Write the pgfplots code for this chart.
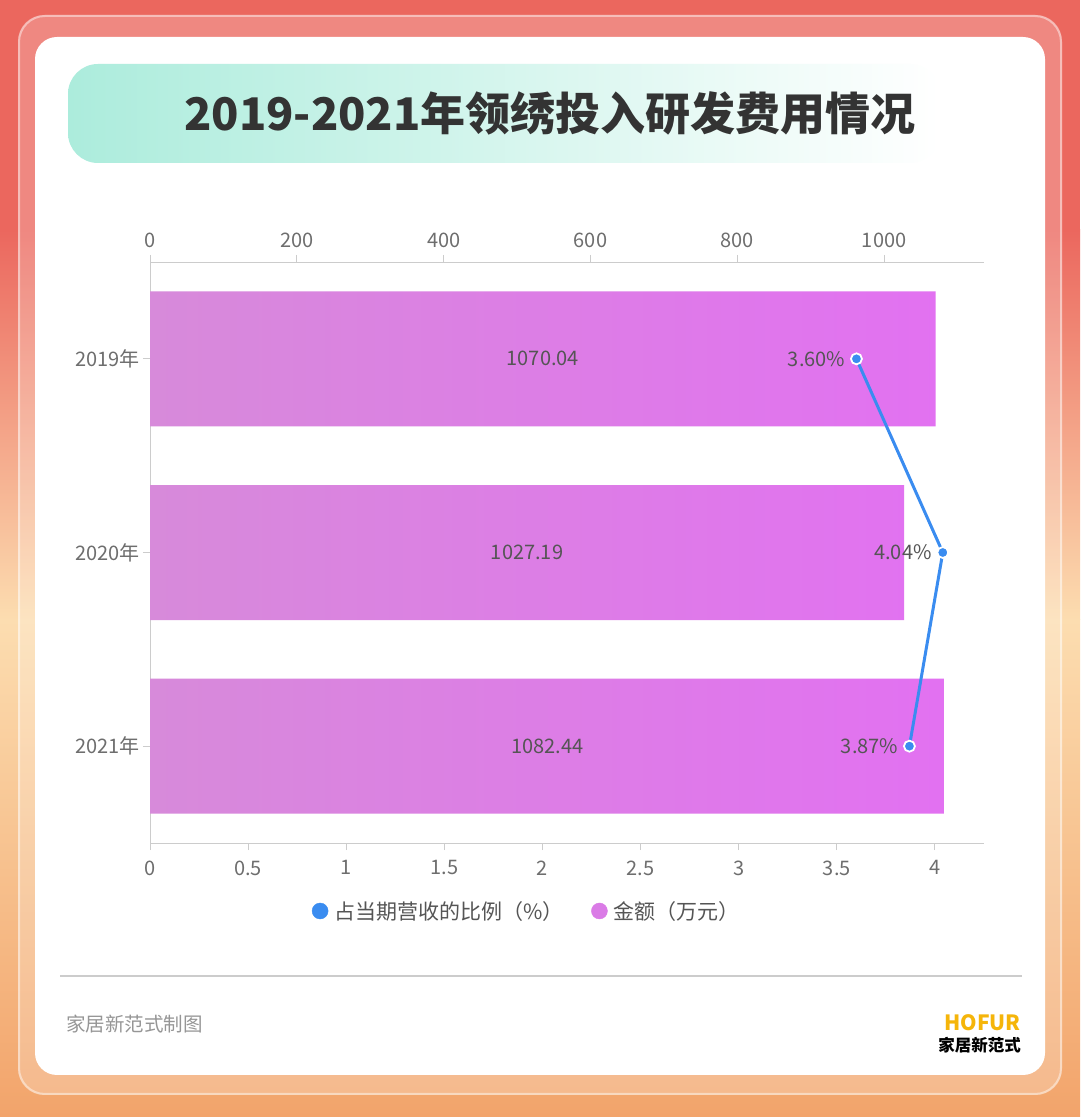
\documentclass[border=0pt]{standalone}
\usepackage{pgfplots}
\pgfplotsset{compat=1.18}
\usepackage{fontspec}
\setmainfont{Noto Sans CJK SC}
\definecolor{bgRed}{RGB}{235,103,94}
\definecolor{bgPale}{RGB}{252,221,176}
\definecolor{bgOrange}{RGB}{242,164,107}
\definecolor{teal}{RGB}{172,236,220}
\definecolor{titlegray}{RGB}{51,51,51}
\definecolor{axisgray}{RGB}{204,204,204}
\definecolor{tickgray}{RGB}{110,110,110}
\definecolor{labgray}{RGB}{85,85,85}
\definecolor{barL}{RGB}{215,138,218}
\definecolor{barR}{RGB}{226,113,241}
\definecolor{lineblue}{RGB}{58,140,240}
\definecolor{legpurple}{RGB}{218,123,230}
\definecolor{footgray}{RGB}{150,150,150}
\definecolor{hofur}{RGB}{245,181,10}
\newcommand{\tf}{\fontsize{20}{24}\selectfont}
\newcommand{\lf}{\fontsize{21}{25}\selectfont}
\begin{document}
\begin{tikzpicture}[x=1pt,y=1pt]
\path[use as bounding box] (0,0) rectangle (1080,1117);
% background
\fill[bgRed] (0,887) rectangle (1080,1117);
\shade[top color=bgRed, bottom color=bgPale] (0,497) rectangle (1080,887.5);
\shade[top color=bgPale, bottom color=bgOrange] (0,0) rectangle (1080,497.5);
% frame
\fill[white, opacity=0.22, rounded corners=26] (18,22) rectangle (1062,1102);
\draw[white, opacity=0.45, line width=2, rounded corners=26] (19,23) rectangle (1061,1101);
\fill[white, rounded corners=22] (35,42) rectangle (1045,1080);
% banner
\shade[left color=teal, right color=white, rounded corners=30] (68,954) rectangle (940,1053);
\node[font=\fontsize{45}{54}\selectfont\bfseries, text=titlegray] at (550,1004) {2019-2021年领绣投入研发费用情况};
% bars axis
\begin{axis}[at={(150pt,274pt)}, anchor=south west, width=834pt, height=581pt, scale only axis,
  xmin=0, xmax=1136, ymin=-0.5, ymax=2.5, y dir=reverse,
  axis x line*=top, axis y line*=left, axis line style={-, draw=axisgray, line width=1pt},
  xtick={0,200,400,600,800,1000}, xticklabels={0,200,400,600,800,1000},
  ytick={0,1,2}, yticklabels={2019年,2020年,2021年},
  tick align=outside, major tick length=7pt, tick style={draw=axisgray, line width=1pt},
  ticklabel style={font=\tf, text=tickgray}, /pgf/number format/assume math mode=true,
  xticklabel style={yshift=4pt},
  clip=false]
\addplot[xbar, bar width=135pt, draw=none, left color=barL, right color=barR]
  coordinates {(1070.04,0) (1027.19,1) (1082.44,2)};
\addplot[draw=none, nodes near coords, point meta=explicit symbolic,
  every node near coord/.style={anchor=center, font=\tf, text=labgray}]
  coordinates {(535.02,0) [1070.04] (513.60,1) [1027.19] (541.22,2) [1082.44]};
\end{axis}
% line axis
\begin{axis}[at={(150pt,274pt)}, anchor=south west, width=834pt, height=581pt, scale only axis,
  xmin=0, xmax=4.25, ymin=-0.5, ymax=2.5, y dir=reverse,
  axis x line*=bottom, hide y axis, axis line style={-, draw=axisgray, line width=1pt},
  xtick={0,0.5,1,1.5,2,2.5,3,3.5,4}, xticklabels={0,0.5,1,1.5,2,2.5,3,3.5,4},
  tick align=outside, major tick length=7pt, tick style={draw=axisgray, line width=1pt},
  ticklabel style={font=\tf, text=tickgray}, /pgf/number format/assume math mode=true,
  xticklabel style={yshift=-7pt},
  clip=false,
  legend style={at={(axis cs:1.92,2.851)}, anchor=center, draw=none, fill=none,
    legend columns=2, font=\lf, text=labgray,
    /tikz/every even column/.append style={column sep=26pt}},
  legend cell align=left]
\addplot[color=lineblue, line width=3pt, mark=*, mark size=5.5pt,
  mark options={fill=lineblue, draw=white, line width=1.8pt},
  nodes near coords, point meta=explicit symbolic,
  every node near coord/.style={anchor=east, xshift=-7pt, font=\tf, text=labgray}, forget plot]
  coordinates {(3.60,0) [3.60\%] (4.04,1) [4.04\%] (3.87,2) [3.87\%]};
\addlegendimage{only marks, mark=*, mark size=8pt, color=lineblue}
\addlegendentry{\hspace{4pt}占当期营收的比例（\%）}
\addlegendimage{only marks, mark=*, mark size=8pt, color=legpurple}
\addlegendentry{\hspace{4pt}金额（万元）}
\end{axis}
% footer
\draw[axisgray, line width=1.5pt] (60,141) -- (1022,141);
\node[anchor=west, font=\fontsize{19.5}{23}\selectfont, text=footgray, inner sep=0] at (66,93) {家居新范式制图};
\node[anchor=east, font=\fontsize{21}{24}\selectfont\bfseries, text=hofur, inner sep=0] at (1021,94) {HOFUR};
\node[anchor=east, font=\fontsize{16.5}{20}\selectfont\bfseries, text=black, inner sep=0] at (1021,72) {家居新范式};
\end{tikzpicture}
\end{document}
